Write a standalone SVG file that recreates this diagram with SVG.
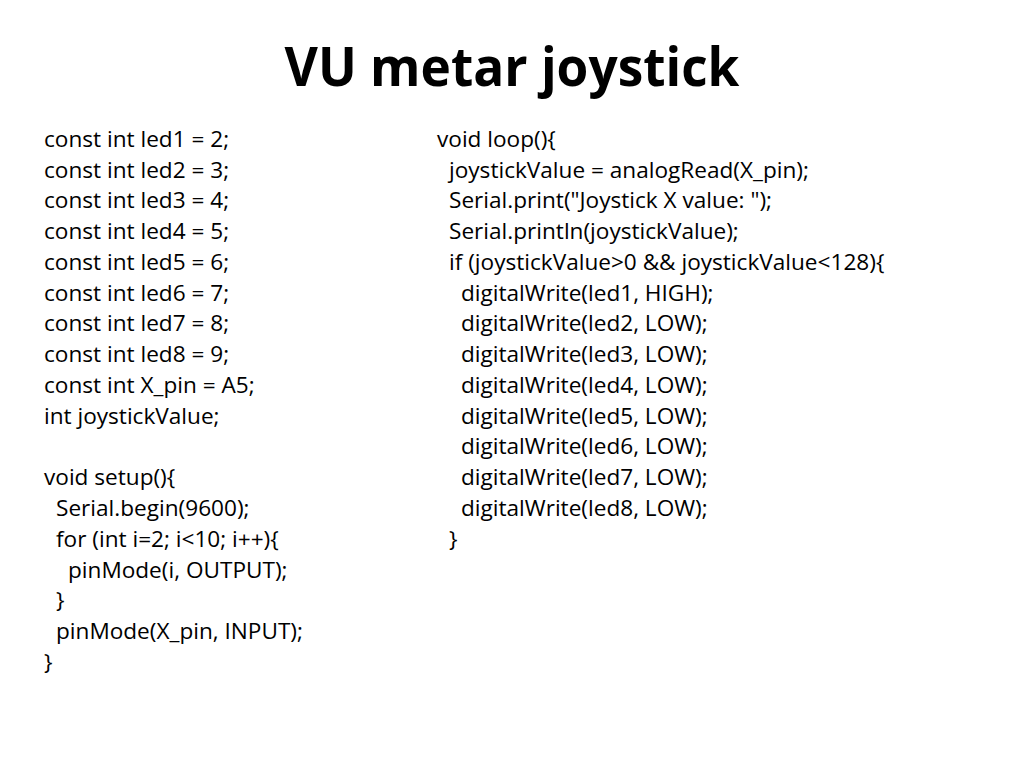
<svg xmlns="http://www.w3.org/2000/svg" width="1024" height="768" viewBox="0 0 1024 768">
<style>
.c{font-family:"Open Sans","Liberation Sans",Arial,sans-serif;font-size:22.6px;fill:#000}
.t{font-family:"Open Sans","Liberation Sans",sans-serif;font-size:54px;font-weight:bold;fill:#000}
</style>
<rect width="1024" height="768" fill="#fff"/>
<g id="title"><text class="t" x="512" y="86" text-anchor="middle" textLength="455" lengthAdjust="spacingAndGlyphs">VU metar joystick</text></g>
<g id="left">
<text class="c" x="44" y="147">const int led1 = 2;</text>
<text class="c" x="44" y="178">const int led2 = 3;</text>
<text class="c" x="44" y="208">const int led3 = 4;</text>
<text class="c" x="44" y="239">const int led4 = 5;</text>
<text class="c" x="44" y="270">const int led5 = 6;</text>
<text class="c" x="44" y="301">const int led6 = 7;</text>
<text class="c" x="44" y="331">const int led7 = 8;</text>
<text class="c" x="44" y="362">const int led8 = 9;</text>
<text class="c" x="44" y="393">const int X_pin = A5;</text>
<text class="c" x="44" y="424">int joystickValue;</text>
<text class="c" x="44" y="485">void setup(){</text>
<text class="c" x="56" y="516">Serial.begin(9600);</text>
<text class="c" x="56" y="547">for (int i=2; i&lt;10; i++){</text>
<text class="c" x="68" y="578">pinMode(i, OUTPUT);</text>
<text class="c" x="56" y="608">}</text>
<text class="c" x="56" y="639">pinMode(X_pin, INPUT);</text>
<text class="c" x="44" y="670">}</text>
</g>
<g id="right">
<text class="c" x="437" y="147">void loop(){</text>
<text class="c" x="449" y="178">joystickValue = analogRead(X_pin);</text>
<text class="c" x="449" y="208">Serial.print("Joystick X value: ");</text>
<text class="c" x="449" y="239">Serial.println(joystickValue);</text>
<text class="c" x="449" y="270">if (joystickValue&gt;0 &amp;&amp; joystickValue&lt;128){</text>
<text class="c" x="461" y="301">digitalWrite(led1, HIGH);</text>
<text class="c" x="461" y="331">digitalWrite(led2, LOW);</text>
<text class="c" x="461" y="362">digitalWrite(led3, LOW);</text>
<text class="c" x="461" y="393">digitalWrite(led4, LOW);</text>
<text class="c" x="461" y="424">digitalWrite(led5, LOW);</text>
<text class="c" x="461" y="454">digitalWrite(led6, LOW);</text>
<text class="c" x="461" y="485">digitalWrite(led7, LOW);</text>
<text class="c" x="461" y="516">digitalWrite(led8, LOW);</text>
<text class="c" x="449" y="547">}</text>
</g>
</svg>
